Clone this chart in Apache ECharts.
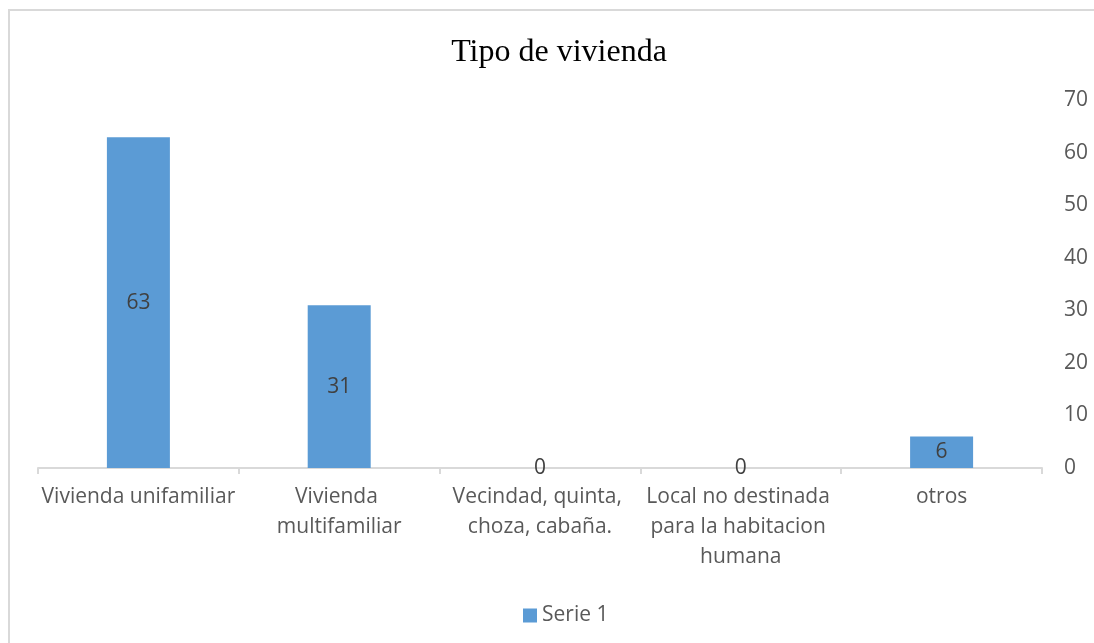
<!DOCTYPE html>
<html>
<head>
<meta charset="utf-8">
<script src="https://cdn.jsdelivr.net/npm/echarts@6/dist/echarts.min.js"></script>
<style>
  html, body { margin: 0; padding: 0; background: #fff; }
  #chart { width: 1094px; height: 643px; }
</style>
</head>
<body>
<div id="chart"></div>
<script>
// datos
var categorias = ['Vivienda unifamiliar', 'Vivienda multifamiliar', 'Vecindad, quinta, choza, cabaña.', 'Local no destinada para la habitacion humana', 'otros'];
var serie1 = [63, 31, 0, 0, 6];
var ejeY = { min: 0, max: 70, interval: 10 };

var fuente = '"Open Sans", sans-serif';
var gris = '#595959';

var myChart = echarts.init(document.getElementById('chart'));
myChart.setOption({
    animation: false,
    title: {
        text: 'Tipo de vivienda',
        left: 554,
        textAlign: 'center',
        top: 32,
        textStyle: {
            fontFamily: '"Liberation Serif", "Times New Roman", serif',
            fontSize: 32,
            fontWeight: 'normal',
            color: '#000'
        }
    },
    // marco del grafico
    graphic: [{
        type: 'rect',
        shape: { x: 9, y: 10, width: 1200, height: 800 },
        style: { fill: 'none', stroke: '#D9D9D9', lineWidth: 2 },
        silent: true
    }],
    legend: {
        data: ['Serie 1'],
        left: 518,
        top: 600,
        icon: 'rect',
        itemWidth: 14,
        itemHeight: 14,
        itemGap: 8,
        textStyle: { fontFamily: fuente, fontSize: 21, color: gris }
    },
    grid: { left: 38, right: 52, top: 100.5, bottom: 175 },
    xAxis: {
        type: 'category',
        data: categorias,
        axisLine: { lineStyle: { color: '#D9D9D9', width: 2 } },
        axisTick: { show: true, length: 6, interval: 0, lineStyle: { color: '#D9D9D9', width: 2 } },
        axisLabel: {
            interval: 0,
            margin: 14,
            width: 200,
            overflow: 'break',
            lineHeight: 30,
            fontFamily: fuente,
            fontSize: 21,
            color: gris
        }
    },
    yAxis: {
        type: 'value',
        position: 'right',
        min: ejeY.min,
        max: ejeY.max,
        interval: ejeY.interval,
        splitLine: { show: false },
        axisLine: { show: false },
        axisTick: { show: false },
        axisLabel: { margin: 22, fontFamily: fuente, fontSize: 21, color: gris }
    },
    series: [{
        name: 'Serie 1',
        type: 'bar',
        data: serie1,
        barWidth: 63,
        itemStyle: { color: '#5B9BD5' },
        label: {
            show: true,
            position: 'inside',
            fontFamily: fuente,
            fontSize: 21,
            color: '#404040'
        }
    }]
});
</script>
</body>
</html>
